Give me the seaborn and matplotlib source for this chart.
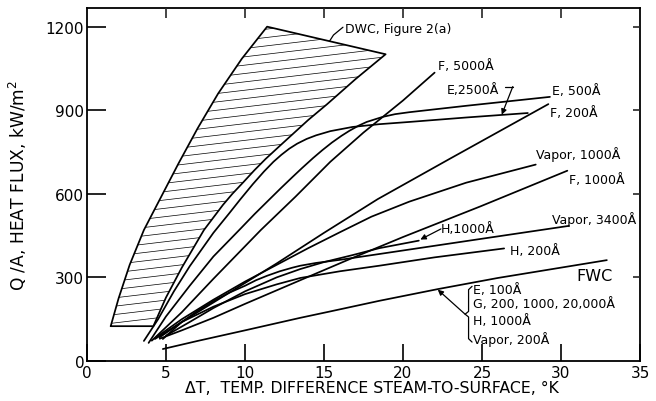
import numpy as np
import matplotlib
matplotlib.use("Agg")
import matplotlib.pyplot as plt
import seaborn as sns
from matplotlib.patches import Polygon

# ---- DWC band, Figure 2(a) ----
dwc_left_dt = [1.5, 2.0, 2.7, 3.6, 4.7, 5.8, 7.0, 8.3, 9.8, 11.4]
dwc_left_q = [125, 225, 345, 470, 590, 710, 835, 960, 1085, 1200]
dwc_right_dt = [18.9, 17.0, 15.2, 14.0, 12.2, 11.3, 10.6, 9.9, 9.2, 8.6, 7.4, 6.0, 5.0, 4.2]
dwc_right_q = [1101, 1012, 922, 865, 772, 725, 685, 642, 600, 560, 470, 335, 228, 125]

# ---- promoter curves ----
e2500_dt = [3.6, 4.5, 5.5, 6.5, 8.0, 9.0, 9.7, 10.5, 11.2, 11.8, 12.3, 12.8, 13.3,
            13.9, 14.5, 15.4, 16.8, 18.5, 20.4, 24.0, 27.9]
e2500_q = [72, 150, 250, 340, 460, 530, 580, 635, 680, 715, 740, 762, 780,
           797, 810, 825, 840, 850, 858, 874, 890]
e500_dt = [3.9, 5.0, 6.5, 8.0, 9.7, 10.6, 11.6, 12.3, 13.0, 13.6, 14.3, 14.9, 15.5,
           16.1, 16.6, 17.2, 17.7, 18.7, 19.5, 20.4, 24.0, 29.3]
e500_q = [65, 160, 270, 375, 474, 527, 583, 622, 660, 692, 728, 757, 784,
          808, 826, 845, 858, 876, 886, 893, 916, 948]
f5000_dt = [4.1, 6.0, 8.0, 11.0, 13.2, 15.4, 17.5, 20.0, 22.0]
f5000_q = [73, 175, 295, 470, 590, 715, 820, 935, 1035]
f200_dt = [4.3, 6.0, 8.0, 10.0, 12.0, 13.5, 15.0, 18.4, 23.0, 29.2]
f200_q = [79, 140, 210, 280, 350, 405, 460, 581, 727, 922]
vap1000_dt = [4.4, 6.0, 8.0, 10.0, 12.0, 14.0, 16.0, 18.0, 20.4, 24.0, 28.4]
vap1000_q = [86, 150, 220, 285, 345, 405, 462, 518, 572, 640, 705]
f1000_dt = [4.6, 6.0, 8.0, 10.0, 13.5, 16.6, 20.0, 24.9, 30.4]
f1000_q = [80, 110, 155, 205, 290, 365, 445, 555, 683]
vap3400_dt = [4.8, 6.0, 7.0, 8.0, 9.0, 10.0, 10.7, 11.4, 12.2, 13.0, 13.5, 14.5,
              16.0, 18.5, 24.9, 30.5]
vap3400_q = [79, 140, 180, 215, 245, 270, 290, 306, 322, 335, 342, 352,
             363, 384, 438, 485]
h1000_dt = [5.0, 6.5, 8.0, 10.0, 12.0, 13.5, 15.0, 16.8, 18.5, 21.0]
h1000_q = [91, 140, 190, 250, 300, 330, 355, 380, 405, 432]
h200_dt = [4.6, 6.0, 8.0, 10.0, 12.0, 13.5, 16.0, 18.5, 22.0, 26.4]
h200_q = [85, 140, 195, 240, 275, 298, 322, 342, 372, 404]
fwc_dt = [4.8, 7.0, 10.0, 13.5, 15.4, 18.5, 22.2, 26.0, 32.9]
fwc_q = [43, 72, 110, 155, 178, 216, 258, 298, 362]

x_ticks = [0, 5, 10, 15, 20, 25, 30, 35]
y_ticks = [0, 300, 600, 900, 1200]

sns.set_theme(style="ticks")
plt.rcParams["font.family"] = ["DejaVu Sans"]
plt.rcParams["mathtext.fontset"] = "dejavusans"
plt.rcParams["text.color"] = "black"
plt.rcParams["axes.labelcolor"] = "black"

fig = plt.figure(figsize=(6.56, 4.02), dpi=100)
ax = fig.add_axes([87 / 656, 1 - 362 / 402, (640 - 87) / 656, (362 - 9) / 402])
ax.set_xlim(0, 35)
ax.set_ylim(0, 1267)

LW = 1.25
curve_kw = dict(color="black", linewidth=LW, sort=False, estimator=None, ax=ax)

# DWC band outline and slanted hatching
band_dt = dwc_left_dt + dwc_right_dt + [dwc_left_dt[0]]
band_q = dwc_left_q + dwc_right_q + [dwc_left_q[0]]
sns.lineplot(x=band_dt, y=band_q, **curve_kw)
band = Polygon(np.column_stack([band_dt, band_q]), closed=True, fill=False,
               edgecolor="none", transform=ax.transData)
ax.add_patch(band)
hatch_slope, hatch_step = 6.7, 30
xs = np.array([0.0, 35.0])
for c in np.arange(min(band_q) - 300, max(band_q) + 30, hatch_step):
    (hl,) = ax.plot(xs, c + hatch_slope * xs, color="black", lw=0.5)
    hl.set_clip_path(band)

for dt, q in [(e2500_dt, e2500_q), (e500_dt, e500_q), (f5000_dt, f5000_q),
              (f200_dt, f200_q), (vap1000_dt, vap1000_q), (f1000_dt, f1000_q),
              (vap3400_dt, vap3400_q), (h1000_dt, h1000_q), (h200_dt, h200_q),
              (fwc_dt, fwc_q)]:
    sns.lineplot(x=dt, y=q, **curve_kw)

# ---- axes styling ----
for s in ax.spines.values():
    s.set_linewidth(1.3)
    s.set_color("black")
ax.set_xticks(x_ticks)
ax.set_yticks(y_ticks)
ax.tick_params(axis="x", direction="in", length=12, width=1.2, pad=3,
               labelsize=11, colors="black")
ax.tick_params(axis="y", direction="in", length=14, width=1.2, pad=2,
               labelsize=11, colors="black")
ax.xaxis.set_ticks_position("bottom")
ax.yaxis.set_ticks_position("left")

axr = ax.twinx()
axr.set_ylim(ax.get_ylim())
axr.set_yticks(y_ticks[1:])
axr.tick_params(axis="y", direction="in", length=5, width=1.2, labelright=False)
axt = ax.twiny()
axt.set_xlim(ax.get_xlim())
axt.set_xticks(x_ticks[1:-1])
axt.tick_params(axis="x", direction="in", length=7, width=1.2, labeltop=False)
for a in (axr, axt):
    for s in a.spines.values():
        s.set_visible(False)

ax.set_xlabel("\u0394T,  TEMP. DIFFERENCE STEAM-TO-SURFACE, \u00b0K",
              fontsize=11.3, color="black")
ax.xaxis.set_label_coords(0.515, -0.055)
ax.set_ylabel("Q /A, HEAT FLUX, kW/m$^2$", fontsize=12.3, color="black")
ax.yaxis.set_label_coords(-0.105, 0.5)

# ---- curve labels ----
fs = 9
ann = dict(fontsize=fs, color="black", va="center", ha="left")
ax.text(16.3, 1195, "DWC, Figure 2(a)", **ann)
ax.plot([16.2, 15.6, 15.35], [1198, 1170, 1148], color="black", lw=0.9)
ax.text(22.2, 1062, "F, 5000\u00c5", **ann)
ax.text(22.8, 976, "E,2500\u00c5", **ann)
ax.plot([26.45, 26.95], [985, 985], color="black", lw=0.9)
ax.annotate("", xy=(26.25, 884), xytext=(26.95, 985),
            arrowprops=dict(arrowstyle="-|>", color="black", lw=0.9,
                            mutation_scale=8, shrinkA=0, shrinkB=0))
ax.text(29.4, 970, "E, 500\u00c5", **ann)
ax.text(29.3, 892, "F, 200\u00c5", **ann)
ax.text(28.4, 743, "Vapor, 1000\u00c5", **ann)
ax.text(30.5, 653, "F, 1000\u00c5", **ann)
ax.text(29.4, 510, "Vapor, 3400\u00c5", **ann)
ax.text(22.4, 474, "H,1000\u00c5", **ann)
ax.annotate("", xy=(21.1, 436), xytext=(22.4, 474),
            arrowprops=dict(arrowstyle="-|>", color="black", lw=0.9,
                            mutation_scale=8, shrinkA=0, shrinkB=0))
ax.text(26.8, 397, "H, 200\u00c5", **ann)
ax.text(31.0, 306, "FWC", fontsize=11.5, color="black", va="center", ha="left")

group = ["E, 100\u00c5", "G, 200, 1000, 20,000\u00c5", "H, 1000\u00c5", "Vapor, 200\u00c5"]
group_q = [258, 205, 145, 80]
for t, q in zip(group, group_q):
    ax.text(24.4, q, t, **ann)

# curly brace spanning the grouped labels
top, bot = group_q[0] + 10, group_q[-1] - 12
mid = 0.5 * (top + bot)
bx, bw = 24.15, 0.22
brace_x = [bx + bw, bx, bx, bx - bw, bx, bx, bx + bw]
brace_y = [top, top - 12, mid + 10, mid, mid - 10, bot + 12, bot]
ax.plot(brace_x, brace_y, color="black", lw=0.9)
ax.annotate("", xy=(22.2, 256), xytext=(bx - bw, mid),
            arrowprops=dict(arrowstyle="-|>", color="black", lw=0.9,
                            mutation_scale=8, shrinkA=0, shrinkB=0))

fig.savefig("out.png", dpi=100, facecolor="white")
